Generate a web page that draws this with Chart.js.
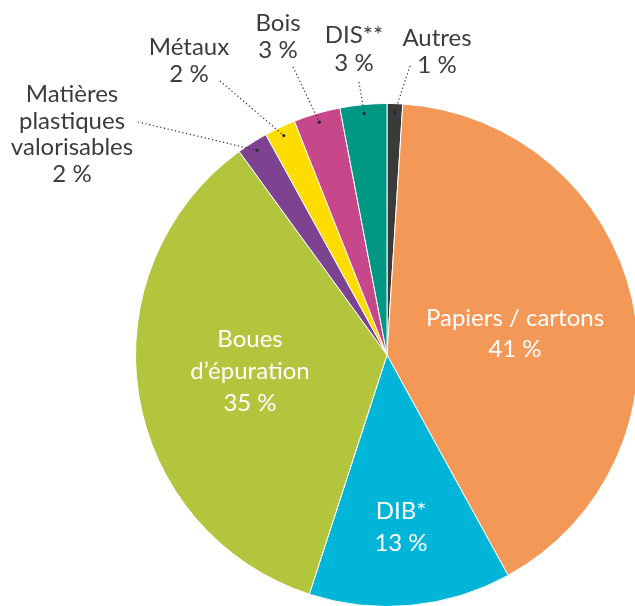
<!DOCTYPE html>
<html>
<head>
<meta charset="utf-8">
<script src="https://cdn.jsdelivr.net/npm/chart.js@4.4.1/dist/chart.umd.min.js"></script>
<style>
  html, body { margin: 0; padding: 0; background: #fff; overflow: hidden; }
  #wrap { position: absolute; left: 0; top: 0; width: 645px; height: 615px; }
</style>
</head>
<body>
<div id="wrap"><canvas id="myChart"></canvas></div>
<script>
// 데이터 (percent)
const categories = ['Autres', 'Papiers / cartons', 'DIB*', 'Boues d’épuration',
  'Matières plastiques valorisables', 'Métaux', 'Bois', 'DIS**'];
const values = [1, 41, 13, 35, 2, 2, 3, 3];
const sliceColors = ['#3a3a3a', '#f39857', '#00b5d8', '#b3c43d', '#7d4391', '#ffdc00', '#c7488a', '#009882'];

// label text lines for each slice (same order as categories)
const labelLines = [
  ['Autres', '1 %'],
  ['Papiers / cartons', '41 %'],
  ['DIB*', '13 %'],
  ['Boues', 'd’épuration', '35 %'],
  ['Matières', 'plastiques', 'valorisables', '2 %'],
  ['Métaux', '2 %'],
  ['Bois', '3 %'],
  ['DIS**', '3 %']
];

// where the labels sit: x center, first baseline, line step, inside or not, leader start
const labelLayout = [
  { x: 437, y: 46, step: 27, inside: false, lead: [410, 66] },
  { x: 515, y: 326, step: 31, inside: true },
  { x: 401, y: 519, step: 32, inside: true },
  { x: 250, y: 347, step: 32, inside: true },
  { x: 72, y: 102, step: 26.7, inside: false, lead: [138, 122] },
  { x: 189, y: 55, step: 27, inside: false, lead: [220, 81] },
  { x: 278, y: 31, step: 27, inside: false, lead: [293, 67] },
  { x: 354, y: 43, step: 28, inside: false, lead: [359, 82] }
];

const FONT = '400 24px Lato, "Open Sans", sans-serif';

const pieLabels = {
  id: 'pieLabels',
  afterDraw(chart) {
    const c = chart.ctx;
    const arcs = chart.getDatasetMeta(0).data;
    c.save();
    c.font = FONT;
    c.textAlign = 'center';
    c.textBaseline = 'alphabetic';

    labelLines.forEach((lines, i) => {
      const lay = labelLayout[i];
      const arc = arcs[i];
      c.fillStyle = lay.inside ? '#ffffff' : '#3c3c3c';
      lines.forEach((t, k) => {
        c.fillText(t, lay.x, lay.y + k * lay.step);
      });

      if (lay.lead) {
        // leader line to the middle of the slice
        const mid = (arc.startAngle + arc.endAngle) / 2;
        const r = arc.outerRadius - 9;
        const ex = arc.x + Math.cos(mid) * r;
        const ey = arc.y + Math.sin(mid) * r;
        c.strokeStyle = '#2a2a2a';
        c.lineWidth = 1.2;
        c.setLineDash([1.2, 2.6]);
        c.beginPath();
        c.moveTo(lay.lead[0], lay.lead[1]);
        c.lineTo(ex, ey);
        c.stroke();
        c.setLineDash([]);
        c.fillStyle = '#2a2a2a';
        c.beginPath();
        c.arc(ex, ey, 1.6, 0, Math.PI * 2);
        c.fill();
      }
    });
    c.restore();
  }
};

let ctx = document.querySelector('#myChart');

let charter = new Chart(ctx, {
  type: 'pie',
  data: {
    labels: categories,
    datasets: [{
      data: values,
      backgroundColor: sliceColors,
      borderColor: '#ffffff',
      borderWidth: 1
    }]
  },
  options: {
    responsive: true,
    maintainAspectRatio: false,
    animation: false,
    layout: { padding: { left: 135, top: 103, right: 6, bottom: 8 } },
    plugins: {
      legend: { display: false },
      tooltip: { enabled: false }
    }
  },
  plugins: [pieLabels]
});
</script>
</body>
</html>
